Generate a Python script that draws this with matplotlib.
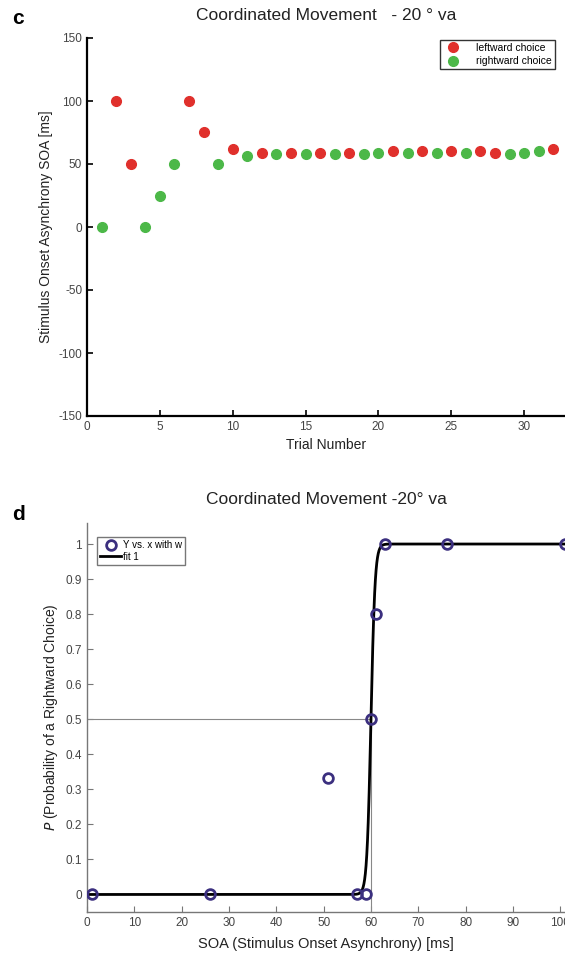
import matplotlib
matplotlib.use('Agg')
import matplotlib.pyplot as plt
import numpy as np

plt.rcParams['font.family'] = ['Liberation Sans', 'DejaVu Sans']
plt.rcParams['axes.unicode_minus'] = False

# panel c: staircase trials
left_trials = [2, 3, 7, 8, 10, 12, 14, 16, 18, 21, 23, 25, 27, 28, 32]
left_soa = [100, 50, 100, 75, 62, 59, 59, 59, 59, 60, 60, 60, 60, 59, 62]
right_trials = [1, 4, 5, 6, 9, 11, 13, 15, 17, 19, 20, 22, 24, 26, 29, 30, 31]
right_soa = [0, 0, 25, 50, 50, 56, 58, 58, 58, 58, 59, 59, 59, 59, 58, 59, 60]

# panel d: proportion of rightward choices vs SOA
soa_pts = [1, 26, 51, 57, 59, 60, 61, 63, 76, 101]
p_right = [0, 0, 0.333, 0, 0, 0.5, 0.8, 1, 1, 1]
pse = 60.0
slope = 0.43

red = '#e0302c'
green = '#4cb848'
circ = '#3b2f7f'
tick_col = '#444444'

fig = plt.figure(figsize=(5.65, 9.57), dpi=100)

# ---- panel c ----
ax1 = fig.add_axes([87/565, 1-416/957, 478/565, 378/957])
ax1.plot(left_trials, left_soa, 'o', color=red, ms=7, label='leftward choice')
ax1.plot(right_trials, right_soa, 'o', color=green, ms=7, label='rightward choice')
ax1.set_xlim(0, 32.8)
ax1.set_ylim(-150, 150)
ax1.set_xticks(np.arange(0, 31, 5))
ax1.set_yticks(np.arange(-150, 151, 50))
for s in ['top', 'right']:
    ax1.spines[s].set_visible(False)
for s in ['left', 'bottom']:
    ax1.spines[s].set_linewidth(1.6)
ax1.tick_params(direction='in', length=4, width=1.2, labelsize=8.5, labelcolor=tick_col)
ax1.set_xlabel('Trial Number', fontsize=10, color='#222222', labelpad=4)
ax1.set_ylabel('Stimulus Onset Asynchrony SOA [ms]', fontsize=10, color='#222222')
ax1.set_title('Coordinated Movement   - 20 ° va', fontsize=12.5, color='#222222', pad=13)
ax1.legend(loc='upper right', bbox_to_anchor=(555/565, 1-40/957),
           bbox_transform=fig.transFigure, borderaxespad=0, fontsize=7.5,
           fancybox=False, edgecolor='black', handletextpad=1.2,
           borderpad=0.3, labelspacing=0.3, markerscale=1.0)
fig.text(12/565, 1-18/957, 'c', fontsize=15, fontweight='bold', va='center')

# ---- panel d ----
ax2 = fig.add_axes([87/565, 1-912/957, 478/565, 389/957])
xs = np.linspace(0, 101, 2000)
fit = 1 / (1 + np.exp(-(xs - pse) / slope))
ax2.plot([0, pse], [0.5, 0.5], color='#888888', lw=0.8)
ax2.plot([pse, pse], [-0.05, 0.5], color='#888888', lw=0.8)
ax2.plot(soa_pts, p_right, 'o', mfc='none', mec=circ, mew=2, ms=7,
         label='Y vs. x with w', zorder=3)
ax2.plot(xs, fit, color='black', lw=2, label='fit 1', zorder=2)
ax2.set_xlim(0, 101)
ax2.set_ylim(-0.05, 1.06)
ax2.set_xticks(np.arange(0, 101, 10))
ax2.set_yticks(np.arange(0, 1.01, 0.1))
ax2.set_yticklabels(['0'] + ['%.1f' % v for v in np.arange(0.1, 0.95, 0.1)] + ['1'])
for s in ['top', 'right']:
    ax2.spines[s].set_visible(False)
for s in ['left', 'bottom']:
    ax2.spines[s].set_color('#777777')
    ax2.spines[s].set_linewidth(1.0)
ax2.tick_params(direction='in', length=4, width=0.8, color='#777777',
                labelsize=8.5, labelcolor=tick_col)
ax2.set_xlabel('SOA (Stimulus Onset Asynchrony) [ms]', fontsize=10.5, color='#222222', labelpad=6)
ax2.set_ylabel('$P$ (Probability of a Rightward Choice)', fontsize=10, color='#222222')
ax2.set_title('Coordinated Movement -20° va', fontsize=12.5, color='#222222', pad=14)
ax2.legend(loc='upper left', bbox_to_anchor=(97/565, 1-537/957),
           bbox_transform=fig.transFigure, borderaxespad=0, fontsize=7,
           fancybox=False, edgecolor='#555555', handlelength=2.2,
           handletextpad=0.2, borderpad=0.3, labelspacing=0.2)
fig.text(12/565, 1-515/957, 'd', fontsize=15, fontweight='bold', va='center')

fig.savefig('out.png', dpi=100)
